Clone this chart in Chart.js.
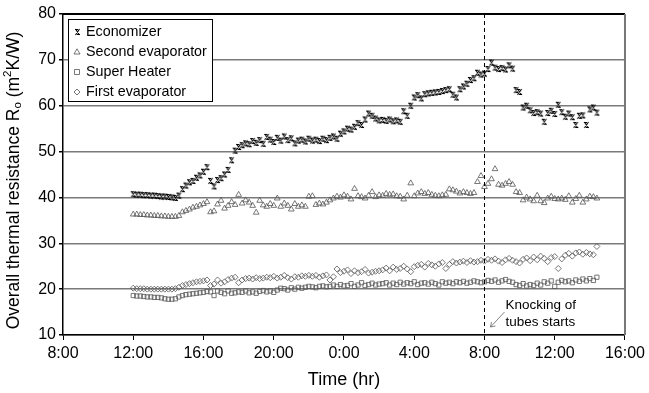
<!DOCTYPE html>
<html>
<head>
<meta charset="utf-8">
<script src="https://cdn.jsdelivr.net/npm/chart.js@4.4.0/dist/chart.umd.min.js"></script>
<style>
  html, body { margin: 0; padding: 0; background: #fff; }
  #wrap { width: 649px; height: 393px; }
</style>
</head>
<body>
<div id="wrap"><canvas id="chart" width="649" height="393"></canvas></div>
<script>
// hours counted from 8:00 on the first day
const hours = [
  4, 4.2, 4.4, 4.6, 4.8, 5, 5.2, 5.4, 5.6, 5.8,
  6, 6.2, 6.4, 6.6, 6.8, 7, 7.2, 7.4, 7.6, 7.8,
  8, 8.2, 8.4, 8.6, 8.8, 9, 9.2, 9.4, 9.6, 9.8,
  10, 10.2, 10.4, 10.6, 10.8, 11, 11.2, 11.4, 11.6, 11.8,
  12, 12.2, 12.4, 12.6, 12.8, 13, 13.2, 13.4, 13.6, 13.8,
  14, 14.2, 14.4, 14.6, 14.8, 15, 15.2, 15.4, 15.6, 15.8,
  16, 16.2, 16.4, 16.6, 16.8, 17, 17.2, 17.4, 17.6, 17.8,
  18, 18.2, 18.4, 18.6, 18.8, 19, 19.2, 19.4, 19.6, 19.8,
  20, 20.2, 20.4, 20.6, 20.8, 21, 21.2, 21.4, 21.6, 21.8,
  22, 22.2, 22.4, 22.6, 22.8, 23, 23.2, 23.4, 23.6, 23.8,
  24, 24.2, 24.4, 24.6, 24.8, 25, 25.2, 25.4, 25.6, 25.8,
  26, 26.2, 26.4, 26.6, 26.8, 27, 27.2, 27.4, 27.6, 27.8,
  28, 28.2, 28.4, 28.6, 28.8, 29, 29.2, 29.4, 29.6, 29.8,
  30, 30.2, 30.4
];

const economizer = [
  40.7, 40.6, 40.6, 40.5, 40.5, 40.4, 40.4, 40.3, 40.2, 40.2,
  40.1, 40.0, 39.9, 40.4, 41.8, 42.6, 43.3, 43.6, 44.3, 44.8,
  45.6, 46.6, 43.6, 42.4, 43.8, 44.2, 45.0, 46.0, 48.1, 50.2,
  51.0, 51.4, 51.8, 51.6, 52.3, 51.9, 52.5, 51.7, 53.2, 52.6,
  52.1, 53.0, 52.4, 53.3, 52.5, 52.9, 51.8, 52.4, 52.6, 52.2,
  52.8, 52.4, 52.6, 52.3, 52.8, 52.5, 53.0, 53.3, 52.8, 53.9,
  54.4, 55.0, 54.8, 55.4, 56.2, 55.8, 57.0, 58.3, 57.8, 57.2,
  56.8, 56.9, 56.7, 57.0, 56.6, 56.8, 56.5, 58.8, 57.8, 60.0,
  61.8, 62.3, 61.6, 62.5, 62.7, 62.8, 62.9, 63.0, 63.2, 63.4,
  63.6, 62.4, 61.8, 63.6, 64.2, 64.8, 65.6, 66.0, 67.2, 66.8,
  67.0, 68.0, 69.4, 68.3, 68.0, 68.2, 67.9, 68.8, 68.1, 63.4,
  63.0, 59.6, 60.0, 59.0, 58.4, 58.6, 58.3, 56.5, 58.4, 58.9,
  58.2, 60.2, 58.6, 57.6, 58.3, 57.5, 55.8, 57.8, 57.9, 55.8,
  59.2, 59.6, 58.5
];

const secondEvaporator = [
  36.3, 36.3, 36.2, 36.2, 36.1, 36.1, 36.0, 36.0, 35.9, 35.9,
  35.8, 35.8, 35.8, 36.0, 36.8, 37.1, 37.4, 37.8, 38.0, 38.3,
  38.6, 39.0, 36.8, 37.0, 38.5, 39.3, 37.6, 38.2, 39.0, 38.4,
  40.6, 38.7, 39.4, 38.9, 38.2, 36.7, 39.3, 38.3, 38.0, 38.6,
  38.2, 39.8, 38.0, 38.7, 38.2, 37.4, 38.6, 38.0, 38.3, 38.0,
  40.2, 40.3, 38.4, 38.7, 38.5, 38.9, 39.4, 39.8, 40.2, 40.0,
  40.5, 40.2, 39.6, 41.9, 40.3, 40.1, 39.8, 40.4, 41.2, 40.1,
  40.5, 40.4, 40.8, 40.6, 40.7, 40.3, 40.2, 39.6, 40.4, 43.1,
  40.3, 40.9, 41.2, 40.8, 41.0, 40.6, 40.4, 40.3, 40.5, 40.6,
  41.8, 41.6, 41.3, 40.9, 41.2, 41.0, 40.8, 41.0, 43.4, 44.7,
  42.3, 43.0, 44.0, 46.2, 42.8, 42.6, 43.0, 43.4, 42.8, 41.2,
  41.0, 39.4, 40.0, 39.6, 39.2, 40.4, 39.2, 38.8, 39.8, 40.2,
  39.7, 39.6, 39.8, 39.5, 40.3, 38.9, 39.7, 40.4, 38.9, 39.6,
  40.2, 40.1, 39.8
];

const superHeater = [
  18.6, 18.5, 18.5, 18.4, 18.3, 18.3, 18.2, 18.2, 18.1, 17.9,
  17.8, 17.8, 17.9, 18.3, 18.6, 18.8, 18.9, 19.0, 19.1, 19.2,
  19.3, 19.5, 19.4, 18.6, 19.6, 19.3, 19.0, 19.6, 19.1, 19.2,
  19.4, 19.3, 19.6, 19.2, 19.4, 19.1, 19.5, 19.7, 19.4, 19.6,
  19.3, 19.8, 20.2, 20.1, 19.8, 20.3, 20.0, 20.4, 20.2, 20.4,
  20.6, 20.5, 20.3, 20.6, 20.7, 20.5, 20.6, 20.9, 20.6, 21.0,
  20.7, 20.8, 21.2, 20.6, 20.9, 21.4, 20.8, 21.0, 21.3, 20.9,
  21.1, 21.2, 21.4, 20.9, 21.3, 21.0, 21.5, 21.1, 21.4, 21.2,
  21.6, 21.0, 21.3, 21.4, 21.1, 21.5, 21.2, 20.9, 21.6, 21.3,
  21.5, 21.2, 21.6, 21.4, 21.7, 21.3, 21.5, 21.8, 21.6, 21.4,
  21.6, 21.9, 21.7, 22.0, 21.5, 21.8, 22.1, 21.7, 21.5, 21.0,
  20.8, 21.2, 20.7, 21.0, 20.8, 21.3, 20.9, 21.6, 21.3, 21.8,
  20.6, 21.5, 21.9, 21.6, 21.8, 21.4, 22.0, 21.7, 22.2, 21.8,
  22.3, 21.9, 22.6
];

const firstEvaporator = [
  20.2, 20.1, 20.1, 20.1, 20.0, 20.0, 20.0, 20.0, 20.0, 20.0,
  20.0, 20.0, 20.1, 20.4, 20.8, 21.0, 21.2, 21.4, 21.6, 21.7,
  21.8, 22.0, 20.8, 21.1, 22.0, 21.3, 21.6, 22.1, 22.4, 22.6,
  21.4, 22.0, 22.3, 22.4, 22.2, 22.5, 22.3, 22.4, 22.6, 22.5,
  22.8, 22.4, 22.6, 23.0, 22.5, 22.2, 22.7, 22.6, 22.9, 22.8,
  23.0, 22.8, 23.0, 22.6, 22.9, 23.1, 22.0, 22.7, 24.4, 23.6,
  23.9, 24.2, 23.4, 24.0, 23.6, 23.8, 24.3, 23.5, 23.7, 23.9,
  24.0, 24.2, 24.6, 24.0, 24.8, 24.3, 24.5, 25.0, 24.4, 23.8,
  24.9, 25.2, 25.4, 24.8, 25.6, 25.3, 25.0, 25.5, 25.8, 24.5,
  25.4, 26.0, 25.7, 25.9, 26.1, 25.8, 26.2, 25.9, 26.0, 26.3,
  26.1, 26.5, 26.3, 26.6, 26.1, 25.8, 26.4, 26.7, 26.3, 26.0,
  25.7, 26.5, 26.8, 26.2, 27.0, 26.4, 27.2, 26.7, 26.0, 26.9,
  27.1, 24.5, 26.6, 27.4, 27.8, 27.2, 27.9, 28.1, 27.6, 28.0,
  27.7, 27.5, 29.3
];

const seriesNames = ['Economizer', 'Second evaporator', 'Super Heater', 'First evaporator'];
const knockingAt = 24; // 8:00 second day

const FONT = "'Liberation Sans', Arial, sans-serif";

// economizer marker: narrow cross with caps
const econMark = document.createElement('canvas');
econMark.width = 7;
econMark.height = 8;
(function () {
  const c = econMark.getContext('2d');
  c.strokeStyle = '#000';
  c.lineWidth = 1.1;
  c.beginPath();
  c.moveTo(1.5, 1); c.lineTo(5.5, 7);
  c.moveTo(5.5, 1); c.lineTo(1.5, 7);
  c.moveTo(1, 1.5); c.lineTo(4, 1.5);
  c.moveTo(3, 6.5); c.lineTo(6, 6.5);
  c.stroke();
})();

function toPoints(vals) {
  return hours.map((h, i) => ({ x: h, y: vals[i] }));
}

function drawMarker(ctx, kind, x, y) {
  ctx.save();
  ctx.strokeStyle = '#555';
  ctx.lineWidth = 0.8;
  ctx.beginPath();
  if (kind === 0) {
    ctx.drawImage(econMark, Math.round(x - 3.5), Math.round(y - 4));
  } else if (kind === 1) {
    ctx.moveTo(x, y - 3.2); ctx.lineTo(x + 3, y + 2); ctx.lineTo(x - 3, y + 2); ctx.closePath();
    ctx.stroke();
  } else if (kind === 2) {
    ctx.rect(x - 2.5, y - 2.5, 5, 5);
    ctx.stroke();
  } else {
    ctx.moveTo(x, y - 3); ctx.lineTo(x + 3, y); ctx.lineTo(x, y + 3); ctx.lineTo(x - 3, y); ctx.closePath();
    ctx.stroke();
  }
  ctx.restore();
}

const decorations = {
  id: 'decorations',
  afterDatasetsDraw(chart) {
    const ctx = chart.ctx;
    const ca = chart.chartArea;
    const xs = chart.scales.x;

    // frame top / right
    ctx.save();
    ctx.strokeStyle = '#000';
    ctx.lineWidth = 2;
    ctx.beginPath();
    ctx.moveTo(ca.left, ca.top); ctx.lineTo(ca.right, ca.top);
    ctx.stroke();
    ctx.strokeStyle = '#777';
    ctx.beginPath();
    ctx.moveTo(ca.right, ca.top); ctx.lineTo(ca.right, ca.bottom);
    ctx.stroke();

    // dashed line where knocking starts
    const kx = Math.round(xs.getPixelForValue(knockingAt)) + 0.5;
    ctx.strokeStyle = '#000';
    ctx.lineWidth = 1;
    ctx.setLineDash([4, 3]);
    ctx.beginPath();
    ctx.moveTo(kx, ca.top); ctx.lineTo(kx, ca.bottom);
    ctx.stroke();
    ctx.setLineDash([]);

    // annotation
    ctx.fillStyle = '#000';
    ctx.font = '13.5px ' + FONT;
    ctx.textBaseline = 'middle';
    ctx.textAlign = 'left';
    ctx.fillText('Knocking of', kx + 21, ca.bottom - 30);
    ctx.fillText('tubes starts', kx + 21, ca.bottom - 13);
    ctx.strokeStyle = '#666';
    ctx.lineWidth = 0.8;
    const ax0 = kx + 20, ay0 = ca.bottom - 23, ax1 = kx + 6, ay1 = ca.bottom - 8;
    ctx.beginPath();
    ctx.moveTo(ax0, ay0); ctx.lineTo(ax1, ay1);
    ctx.moveTo(ax1, ay1); ctx.lineTo(ax1 + 1, ay1 - 5);
    ctx.moveTo(ax1, ay1); ctx.lineTo(ax1 + 5, ay1 - 1);
    ctx.stroke();

    // legend box
    const lx = ca.left + 5, ly = ca.top + 5, lw = 144, lh = 82;
    ctx.fillStyle = '#fff';
    ctx.fillRect(lx, ly, lw, lh);
    ctx.strokeStyle = '#000';
    ctx.lineWidth = 1;
    ctx.strokeRect(lx + 0.5, ly + 0.5, lw, lh);
    ctx.font = '14.3px ' + FONT;
    ctx.fillStyle = '#000';
    seriesNames.forEach((name, i) => {
      const y = ly + 13 + i * 20;
      drawMarker(ctx, i, lx + 9, y);
      ctx.fillText(name, lx + 18, y);
    });

    // y axis title with subscript and superscript
    const parts = [
      { t: 'Overall thermal resistance R', s: 17.5, dy: 0 },
      { t: 'o', s: 11.5, dy: 4 },
      { t: ' (m', s: 17.5, dy: 0 },
      { t: '2', s: 11.5, dy: -6 },
      { t: 'K/W)', s: 17.5, dy: 0 }
    ];
    let total = 0;
    parts.forEach(p => { ctx.font = p.s + 'px ' + FONT; p.w = ctx.measureText(p.t).width; total += p.w; });
    ctx.translate(14, (ca.top + ca.bottom) / 2 + 6);
    ctx.rotate(-Math.PI / 2);
    let px = -total / 2;
    parts.forEach(p => {
      ctx.font = p.s + 'px ' + FONT;
      ctx.fillText(p.t, px, p.dy);
      px += p.w;
    });
    ctx.restore();
  }
};

const markerBase = {
  showLine: false,
  borderWidth: 0.8,
  backgroundColor: 'rgba(0,0,0,0)'
};

new Chart(document.getElementById('chart'), {
  type: 'scatter',
  data: {
    datasets: [
      Object.assign({}, markerBase, {
        label: seriesNames[0], data: toPoints(economizer),
        pointStyle: econMark, borderColor: '#000'
      }),
      Object.assign({}, markerBase, {
        label: seriesNames[1], data: toPoints(secondEvaporator),
        pointStyle: 'triangle', pointRadius: 3.3, borderColor: '#555'
      }),
      Object.assign({}, markerBase, {
        label: seriesNames[2], data: toPoints(superHeater),
        pointStyle: 'rect', pointRadius: 3, borderColor: '#555'
      }),
      Object.assign({}, markerBase, {
        label: seriesNames[3], data: toPoints(firstEvaporator),
        pointStyle: 'rectRot', pointRadius: 3, borderColor: '#555'
      })
    ]
  },
  options: {
    responsive: false,
    animation: false,
    events: [],
    layout: { padding: { top: 14, right: 22, left: 0, bottom: 0 } },
    plugins: {
      legend: { display: false },
      tooltip: { enabled: false }
    },
    scales: {
      x: {
        type: 'linear',
        min: 0,
        max: 32,
        ticks: {
          stepSize: 4,
          color: '#000',
          font: { family: FONT, size: 16 },
          padding: 4,
          maxRotation: 0,
          callback: v => ((8 + v) % 24) + ':00'
        },
        grid: { drawOnChartArea: false, drawTicks: true, tickLength: 5, color: '#000' },
        border: { color: '#000', width: 1.5 },
        title: {
          display: true,
          text: 'Time (hr)',
          color: '#000',
          font: { family: FONT, size: 18 },
          padding: { top: 2, bottom: 2 }
        },
        afterFit: s => { s.height = 58; }
      },
      y: {
        min: 10,
        max: 80,
        ticks: {
          stepSize: 10,
          color: '#000',
          font: { family: FONT, size: 16 },
          padding: 3
        },
        grid: { color: '#7a7a7a', lineWidth: 1.5, tickLength: 4, tickColor: '#000' },
        border: { color: '#000', width: 1.5 },
        afterFit: s => { s.width = 63; }
      }
    }
  },
  plugins: [decorations]
});
</script>
</body>
</html>
